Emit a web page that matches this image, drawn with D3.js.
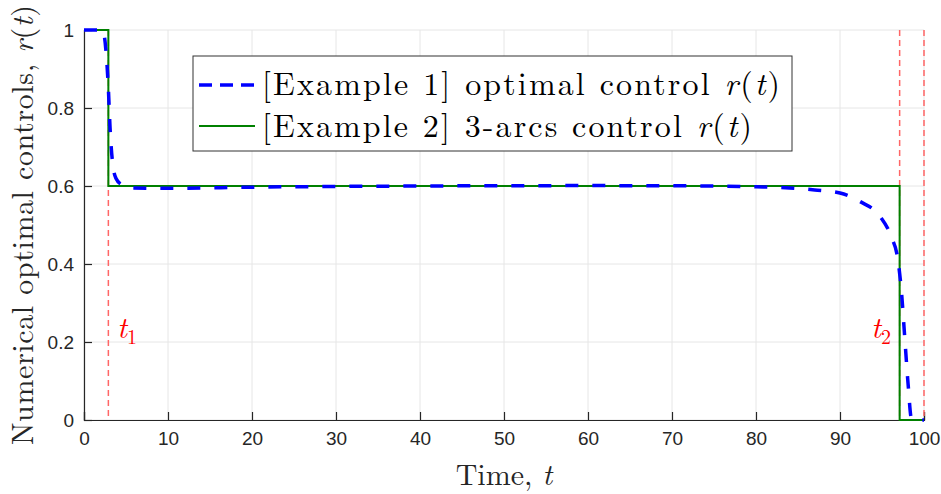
<!DOCTYPE html>
<html><head><meta charset="utf-8">
<script src="https://cdn.jsdelivr.net/npm/d3@7"></script>
<style>body{margin:0;background:#fff}svg{display:block}</style>
</head><body>
<script>
// Data
const xTicks = [0,10,20,30,40,50,60,70,80,90,100];
const yTicks = [0,0.2,0.4,0.6,0.8,1];
const t1 = 2.9, t2 = 97.1, tEnd = 100;
const example1T = [0,2.2,2.6,2.9,3.1,3.4,3.8,4.5,5.5,10,20,40,60,75,80,84,87,90,92.4,94.8,96.1,96.9,97.3,97.7,98.1,98.5,99,100];
const example1R = [1,1,0.95,0.85,0.75,0.66,0.62,0.603,0.595,0.594,0.597,0.6,0.601,0.6,0.598,0.595,0.59,0.582,0.56,0.521,0.47,0.41,0.333,0.214,0.094,0.004,0,0];
const example2T = [0,t1,t1,t2,t2,100];
const example2R = [1,1,0.6,0.6,0,0];
const legendLabels = ["Example 1", "Example 2"];

const W=941,H=494;
const svg=d3.select("body").append("svg").attr("width",W).attr("height",H);
const x=d3.scaleLinear().domain([0,100]).range([84,924]);
const y=d3.scaleLinear().domain([0,1]).range([420,30]);

// grid
const g=svg.append("g");
g.selectAll(".gx").data(xTicks).enter().append("line")
 .attr("x1",d=>x(d)).attr("x2",d=>x(d)).attr("y1",y(0)).attr("y2",y(1))
 .attr("stroke","#e6e6e6").attr("stroke-width",1);
g.selectAll(".gy").data(yTicks).enter().append("line")
 .attr("x1",x(0)).attr("x2",x(100)).attr("y1",d=>y(d)).attr("y2",d=>y(d))
 .attr("stroke","#e6e6e6").attr("stroke-width",1);

// axes
const xa=d3.axisBottom(x).tickValues(xTicks).tickSize(-8).tickPadding(12).tickFormat(d3.format("d"));
const ya=d3.axisLeft(y).tickValues(yTicks).tickSize(-8).tickPadding(10).tickFormat(d=>d===0||d===1?String(d):d3.format(".1f")(d));
const gx=svg.append("g").attr("transform",`translate(0,${y(0)})`).call(xa);
const gy=svg.append("g").attr("transform",`translate(${x(0)},0)`).call(ya);
[gx,gy].forEach(a=>{
  a.select(".domain").attr("stroke","#262626").attr("stroke-width",1.2);
  a.selectAll(".tick line").attr("stroke","#262626").attr("stroke-width",1.2);
  a.selectAll(".tick text").attr("fill","#262626").style("font-family","Liberation Sans, Arial, sans-serif").style("font-size","19px");
});

// vertical red dashed lines
[t1,t2,tEnd].forEach(t=>{
  svg.append("line").attr("x1",x(t)).attr("x2",x(t)).attr("y1",y(1)).attr("y2",y(0))
   .attr("stroke","#ff6666").attr("stroke-width",1.5).attr("stroke-dasharray","6,4");
});

const d1=example1T.map((t,i)=>[t,example1R[i]]);
const d2=example2T.map((t,i)=>[t,example2R[i]]);
const line=d3.line().x(d=>x(d[0])).y(d=>y(d[1]));
const smooth=d3.line().x(d=>x(d[0])).y(d=>y(d[1])).curve(d3.curveMonotoneX);
svg.append("path").attr("d",line(d2)).attr("fill","none").attr("stroke","#008000").attr("stroke-width",2);
svg.append("path").attr("d",smooth(d1)).attr("fill","none").attr("stroke","#0000ff").attr("stroke-width",3.5).attr("stroke-dasharray","13,14");

// t labels
const serif="'Latin Modern Roman','CMU Serif','Liberation Serif','DejaVu Serif',serif";
function tlab(px,py,sub){
  const t=svg.append("text").attr("x",px).attr("y",py).attr("fill","#ff0000").style("font-family",serif).style("font-size","30px");
  t.append("tspan").style("font-style","italic").text("t");
  t.append("tspan").attr("dy",6).style("font-size","20px").text(sub);
}
tlab(117,338,"1");
tlab(871,338,"2");

// legend
svg.append("rect").attr("x",193).attr("y",56).attr("width",599).attr("height",95).attr("fill","#fff").attr("stroke","#333").attr("stroke-width",1);
svg.append("line").attr("x1",199).attr("x2",255).attr("y1",85).attr("y2",85).attr("stroke","#0000ff").attr("stroke-width",3.5).attr("stroke-dasharray","13,8");
svg.append("line").attr("x1",199).attr("x2",255).attr("y1",126).attr("y2",126).attr("stroke","#008000").attr("stroke-width",2);
const legText=[[legendLabels[0]," optimal control ",518],[legendLabels[1]," 3-arcs control ",490]];
legText.forEach((lt,i)=>{
  const t=svg.append("text").attr("x",262).attr("y",95+i*42).attr("fill","#000")
    .attr("textLength",lt[2]).attr("lengthAdjust","spacing")
    .style("font-family",serif).style("font-size","32px");
  t.append("tspan").text("["+lt[0]+"]"+lt[1]);
  t.append("tspan").style("font-style","italic").text("r");
  t.append("tspan").text("(");
  t.append("tspan").style("font-style","italic").text("t");
  t.append("tspan").text(")");
});

// axis labels
const xl=svg.append("text").attr("x",504).attr("y",485).attr("text-anchor","middle").attr("fill","#262626")
  .style("font-family",serif).style("font-size","30px");
xl.append("tspan").text("Time, ");
xl.append("tspan").style("font-style","italic").text("t");
const yl=svg.append("text").attr("transform","translate(33,225) rotate(-90)").attr("text-anchor","middle").attr("fill","#262626")
  .attr("textLength",440).attr("lengthAdjust","spacing")
  .style("font-family",serif).style("font-size","30px");
yl.append("tspan").text("Numerical optimal controls, ");
yl.append("tspan").style("font-style","italic").text("r");
yl.append("tspan").text("(");
yl.append("tspan").style("font-style","italic").text("t");
yl.append("tspan").text(")");
</script>
</body></html>
